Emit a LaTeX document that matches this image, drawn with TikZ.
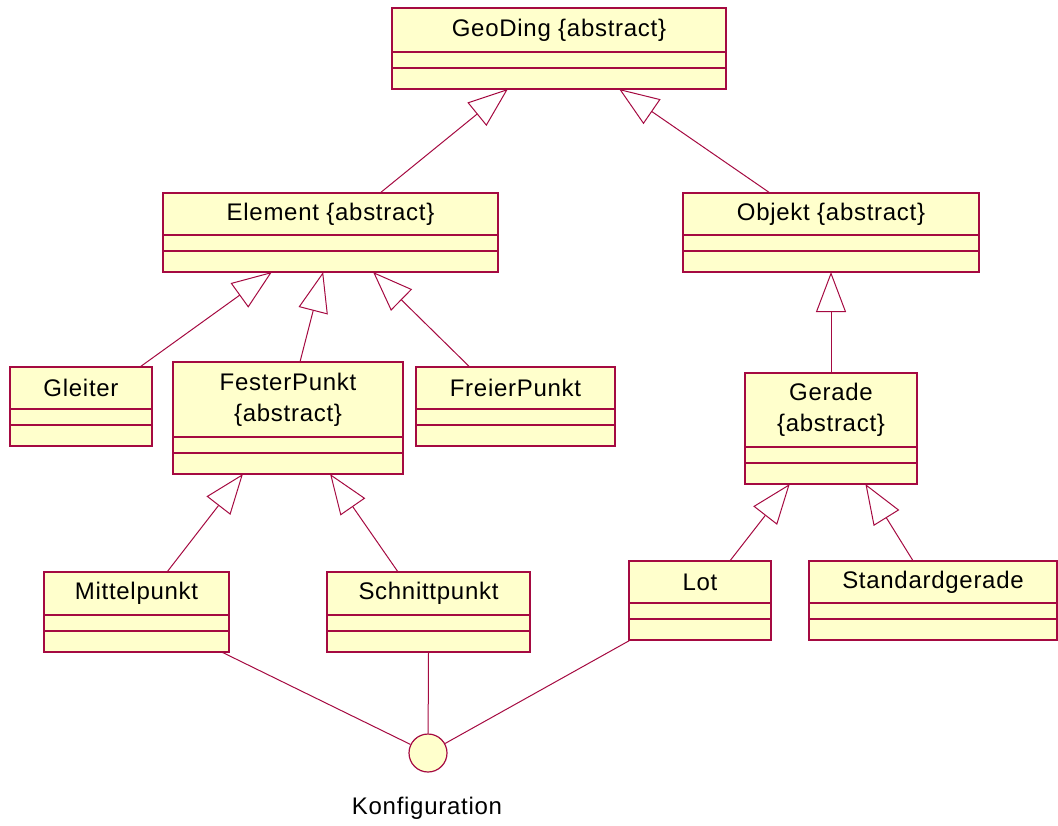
\documentclass[tikz,border=0pt]{standalone}
\usepackage{fontspec}
\setmainfont{Liberation Sans}[LetterSpace=3]
\usetikzlibrary{arrows.meta,positioning,calc}

\definecolor{umlline}{RGB}{165,10,65}
\definecolor{umlfill}{RGB}{255,255,204}

\tikzset{
  classpart/.style={draw=umlline, fill=umlfill, line width=0.6pt, rectangle,
    inner sep=0pt, outer sep=0pt, align=center,
    font=\fontsize{12}{15.5}\selectfont},
  inherit/.style={draw=umlline, line width=0.5pt,
    -{Triangle[open,length=20pt,width=15pt]}},
  assoc/.style={draw=umlline, line width=0.5pt},
}

% class box: name, left, top, width, title height, title
\newcommand{\umlclass}[6]{%
  \node[classpart, anchor=north west, minimum width=#4*0.5pt, minimum height=#5*0.5pt] (#1) at (#2,#3) {#6};
  \node[classpart, below=0pt of #1, minimum width=#4*0.5pt, minimum height=16*0.5pt] (#1-attr) {};
  \node[classpart, below=0pt of #1-attr, minimum width=#4*0.5pt, minimum height=21*0.5pt] (#1-ops) {};
}

\begin{document}
\begin{tikzpicture}[x=0.5pt,y=-0.5pt]
  \useasboundingbox (0,0) rectangle (1058,825);

  \umlclass{geo}{392}{8}{334}{44}{GeoDing \{abstract\}}
  \umlclass{elem}{163}{193}{335}{42}{Element \{abstract\}}
  \umlclass{obj}{683}{193}{296}{42}{Objekt \{abstract\}}
  \umlclass{gleiter}{10}{367}{142}{42}{Gleiter}
  \umlclass{fest}{173}{362}{230}{75}{FesterPunkt\\\{abstract\}}
  \umlclass{frei}{416}{367}{199}{42}{FreierPunkt}
  \umlclass{gerade}{745}{373}{172}{74}{Gerade\\\{abstract\}}
  \umlclass{mittel}{44}{572}{185}{43}{Mittelpunkt}
  \umlclass{schnitt}{327}{572}{203}{43}{Schnittpunkt}
  \umlclass{lot}{629}{561}{142}{42}{Lot}
  \umlclass{std}{809}{561}{248}{42}{Standardgerade}

  \node[circle, draw=umlline, fill=umlfill, line width=0.6pt, minimum size=38*0.5pt, inner sep=0pt] (konf) at (428,753) {};
  \node[font=\fontsize{12}{14}\selectfont] (konf-label) at (427,808) {Konfiguration};

  % generalizations
  \draw[inherit] ($(elem.north west)!0.648!(elem.north east)$) -- ($(geo-ops.south west)!0.347!(geo-ops.south east)$);
  \draw[inherit] ($(obj.north west)!0.294!(obj.north east)$) -- ($(geo-ops.south west)!0.68!(geo-ops.south east)$);
  \draw[inherit] ($(gleiter.north west)!0.915!(gleiter.north east)$) -- ($(elem-ops.south west)!0.325!(elem-ops.south east)$);
  \draw[inherit] ($(fest.north west)!0.552!(fest.north east)$) -- ($(elem-ops.south west)!0.478!(elem-ops.south east)$);
  \draw[inherit] ($(frei.north west)!0.27!(frei.north east)$) -- ($(elem-ops.south west)!0.627!(elem-ops.south east)$);
  \draw[inherit] (gerade.north) -- (obj-ops.south);
  \draw[inherit] ($(mittel.north west)!0.665!(mittel.north east)$) -- ($(fest-ops.south west)!0.304!(fest-ops.south east)$);
  \draw[inherit] ($(schnitt.north west)!0.35!(schnitt.north east)$) -- ($(fest-ops.south west)!0.683!(fest-ops.south east)$);
  \draw[inherit] ($(lot.north west)!0.71!(lot.north east)$) -- ($(gerade-ops.south west)!0.26!(gerade-ops.south east)$);
  \draw[inherit] ($(std.north west)!0.42!(std.north east)$) -- ($(gerade-ops.south west)!0.70!(gerade-ops.south east)$);

  % associations to the configuration
  \draw[assoc] ($(mittel-ops.south west)!0.96!(mittel-ops.south east)$) -- (konf);
  \draw[assoc] (schnitt-ops.south) -- (konf);
  \draw[assoc] ($(lot-ops.south west)!0.01!(lot-ops.south east)$) -- (konf);
\end{tikzpicture}
\end{document}
